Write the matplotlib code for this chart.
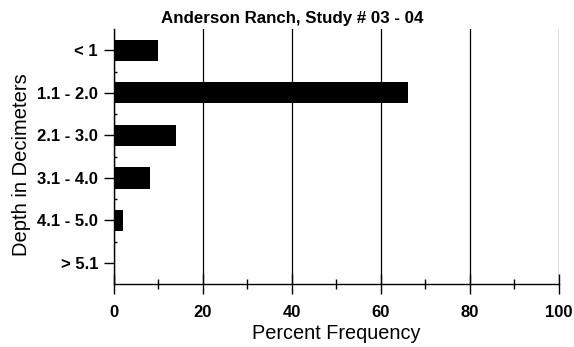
import numpy as np
import matplotlib
matplotlib.use("Agg")
import matplotlib.pyplot as plt
from matplotlib.ticker import MultipleLocator, FixedLocator

plt.rcParams['font.family'] = ['Liberation Sans', 'DejaVu Sans']

# depth classes, top to bottom
depths = ['< 1', '1.1 - 2.0', '2.1 - 3.0', '3.1 - 4.0', '4.1 - 5.0', '> 5.1']
percent = [10, 66, 14, 8, 2, 0.3]

fig = plt.figure(figsize=(5.74, 3.47), dpi=100)
ax = fig.add_axes([0.1986, 0.1807, 0.7752, 0.7357])

y = np.arange(len(depths))
ax.barh(y, percent, height=0.5, color='black', zorder=3)

ax.set_xlim(0, 100)
ax.set_ylim(len(depths) - 0.5, -0.5)

ax.xaxis.set_major_locator(MultipleLocator(20))
ax.xaxis.set_minor_locator(MultipleLocator(10))
ax.set_yticks(y)
ax.set_yticklabels(depths)
ax.yaxis.set_minor_locator(FixedLocator(np.arange(0.5, len(depths) - 0.5, 1)))

for s in ['top', 'right']:
    ax.spines[s].set_visible(False)
ax.spines['left'].set_linewidth(1.0)
ax.spines['bottom'].set_linewidth(1.0)

ax.tick_params(axis='x', which='major', direction='inout', length=14, width=1, pad=8)
ax.tick_params(axis='x', which='minor', direction='inout', length=7, width=1)
ax.tick_params(axis='y', which='major', direction='out', length=7, width=1, pad=4.5)
ax.tick_params(axis='y', which='minor', direction='in', length=2, width=1)

for lab in ax.get_xticklabels() + ax.get_yticklabels():
    lab.set_fontweight('bold')
    lab.set_fontsize(12)

ax.grid(axis='x', which='major', color='black', linewidth=0.9, zorder=1)
ax.set_axisbelow(True)

ax.set_xlabel('Percent Frequency', fontsize=14.3, labelpad=3)
ax.set_ylabel('Depth in Decimeters', fontsize=14.5, labelpad=4)
ax.yaxis.set_label_coords(-0.186, 0.467)
ax.set_title('Anderson Ranch, Study # 03 - 04', fontsize=12.2, fontweight='bold', pad=4, x=0.4)

fig.savefig('out.png', dpi=100)
